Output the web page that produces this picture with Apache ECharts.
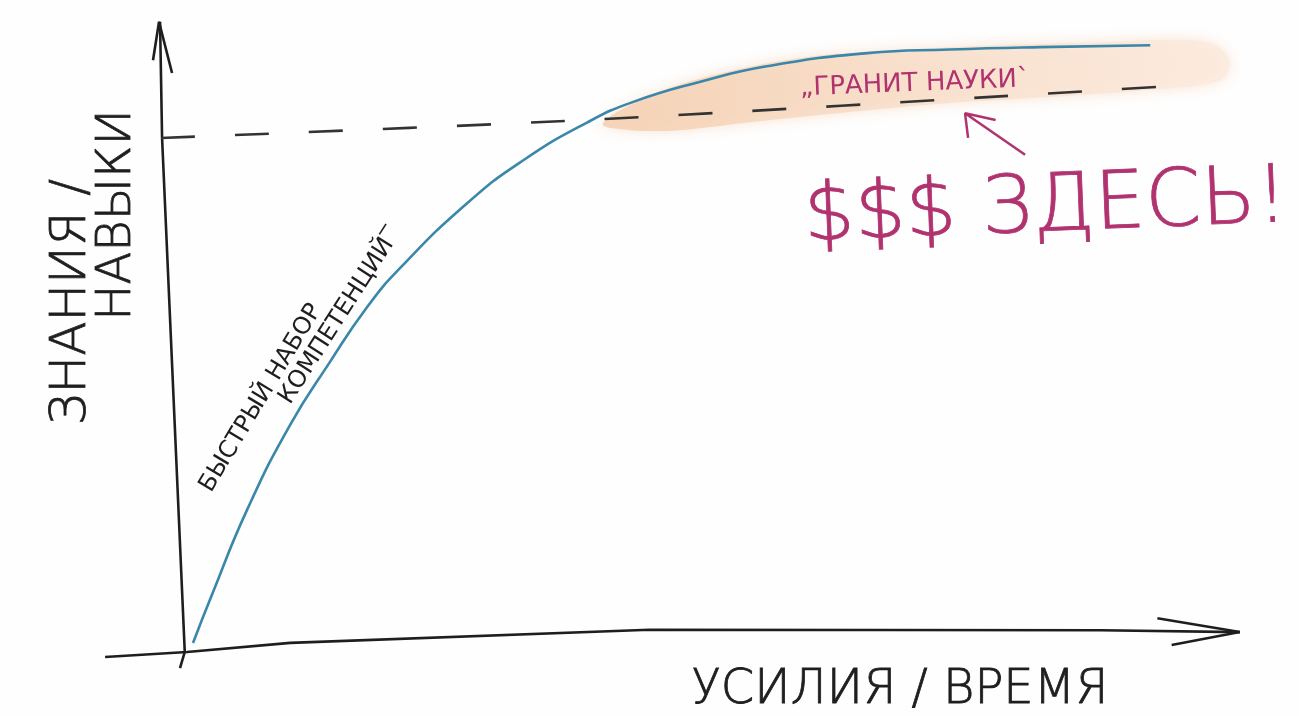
<!DOCTYPE html>
<html><head><meta charset="utf-8">
<script src="https://cdn.jsdelivr.net/npm/echarts@6/dist/echarts.min.js"></script>
<style>html,body{margin:0;padding:0;background:#fefefe}#c{width:1299px;height:716px}</style>
</head><body><div id="c"></div>
<script>
// Learning curve (effort -> knowledge)
const effort    = [1.14, 3.0, 6.45, 10.67, 14.6, 18.2, 21.5, 28.1, 33.6, 39.9, 44.4, 50.9, 57.5, 67.4, 75.5, 84.4, 95.2];
const knowledge = [1.5, 9.5, 23.6, 37.7, 48.2, 57.2, 63.8, 74.6, 81.7, 88.0, 91.4, 94.7, 97.3, 99.5, 100.1, 100.5, 100.8];
// Dashed "plateau" level
const plateauX = [-2, 41, 96];
const plateauY = [85.4, 88.5, 93.9];
// Hand-drawn axes
const xAxisLineX = [-7.5, 0.55, 10.7, 46, 90.3, 104];
const xAxisLineY = [-0.85, 0, 1.5, 3.7, 3.6, 3.3];
const xArrowX = [95.9, 104, 97.3];
const xArrowY = [5.6, 3.3, 1.15];
const yAxisLineX = [-0.14, 0.33, -1.9, -2.1];
const yAxisLineY = [-2.7, 0, 85.4, 104.7];
const yArrowX = [-2.79, -2.2, -0.92];
const yArrowY = [98.3, 104.7, 96.2];
// Highlighted "granite of science" zone
const zoneX = [41.4, 45.1, 51.0, 60.8, 70.6, 80.4, 90.3, 98.1, 101.6, 103.0, 102.1, 95.2, 85.4, 75.5, 65.7, 55.9, 49.0, 44.1];
const zoneY = [87.7, 91.7, 95.3, 98.7, 100.0, 100.8, 101.3, 101.7, 100.8, 98.0, 95.0, 93.4, 92.2, 91.2, 89.7, 88.0, 86.7, 86.7];
// Pointer arrow
const pointerX = [82.9, 77.0, 80.0, 77.0, 77.3];
const pointerY = [82.6, 89.5, 88.4, 89.5, 85.4];
// Texts
const axisTitles = ['УСИЛИЯ / ВРЕМЯ', 'ЗНАНИЯ /', 'НАВЫКИ'];
const notes = ['БЫСТРЫЙ НАБОР', 'КОМПЕТЕНЦИЙ‾', '„ГРАНИТ НАУКИ`', '$$$ ЗДЕСЬ!'];

const pairs = (xs, ys) => xs.map((x, i) => [x, ys[i]]);
const ink = '#1e1e1e', magenta = '#b0336f', blue = '#3a87aa';
const font = '"DejaVu Sans", sans-serif';

const chart = echarts.init(document.getElementById('c'), null, {renderer: 'canvas'});
const lineBase = {type: 'line', symbol: 'none', clip: false, silent: true, animation: false};
chart.setOption({
  backgroundColor: '#fefefe',
  animation: false,
  grid: {left: 100, right: 49, top: 20, bottom: 46},
  xAxis: {type: 'value', min: -8, max: 105, show: false},
  yAxis: {type: 'value', min: -3, max: 105, show: false},
  series: [
    {
      type: 'custom', coordinateSystem: 'cartesian2d', data: [[0, 0]], z: 1, silent: true, clip: false,
      renderItem: (params, api) => {
        const pts = zoneX.map((x, i) => api.coord([x, zoneY[i]]));
        return {
          type: 'polygon', shape: {points: pts, smooth: 0.35},
          style: {
            fill: new echarts.graphic.LinearGradient(0, 0, 1, 0, [
              {offset: 0, color: '#f4cfb0'}, {offset: 0.5, color: '#f8dfcb'}, {offset: 1, color: '#fcebdf'}
            ]),
            opacity: 0.85, shadowBlur: 14, shadowColor: 'rgba(247,215,190,0.8)'
          }
        };
      }
    },
    Object.assign({}, lineBase, {data: pairs(xAxisLineX, xAxisLineY), z: 3, lineStyle: {color: ink, width: 2.6}}),
    Object.assign({}, lineBase, {data: pairs(xArrowX, xArrowY), z: 3, lineStyle: {color: ink, width: 2.6}}),
    Object.assign({}, lineBase, {data: pairs(yAxisLineX, yAxisLineY), z: 3, lineStyle: {color: ink, width: 2.6}}),
    Object.assign({}, lineBase, {data: pairs(yArrowX, yArrowY), z: 3, lineStyle: {color: ink, width: 2.6}}),
    Object.assign({}, lineBase, {data: pairs(plateauX, plateauY), z: 3, smooth: 0.3,
      lineStyle: {color: '#333', width: 2.6, type: [34, 40]}}),
    Object.assign({}, lineBase, {data: pairs(effort, knowledge), z: 4, smooth: 0.5,
      lineStyle: {color: blue, width: 2.6}}),
    Object.assign({}, lineBase, {data: pairs(pointerX, pointerY), z: 4, lineStyle: {color: magenta, width: 2.5}})
  ],
  graphic: [
    {type: 'text', z: 100, x: 900, y: 691, style: {text: axisTitles[0], font: '200 48px ' + font, fill: ink, stroke: ink, lineWidth: 0.8, align: 'center', verticalAlign: 'middle'}},
    {type: 'text', z: 100, x: 72, y: 302, rotation: Math.PI / 2, style: {text: axisTitles[1], font: '200 50px ' + font, fill: ink, stroke: ink, lineWidth: 0.8, align: 'center', verticalAlign: 'middle'}},
    {type: 'text', z: 100, x: 118, y: 215, rotation: Math.PI / 2, style: {text: axisTitles[2], font: '200 48px ' + font, fill: ink, stroke: ink, lineWidth: 0.8, align: 'center', verticalAlign: 'middle'}},
    {type: 'text', z: 100, x: 261, y: 398, rotation: 1.03, style: {text: notes[0], font: '24px ' + font, fill: ink, align: 'center', verticalAlign: 'middle'}},
    {type: 'text', z: 100, x: 340, y: 316, rotation: 1.0, style: {text: notes[1], font: '24px ' + font, fill: ink, align: 'center', verticalAlign: 'middle'}},
    {type: 'text', z: 100, x: 915, y: 84, rotation: 0.04, style: {text: notes[2], font: '26px ' + font, fill: magenta, align: 'center', verticalAlign: 'middle'}},
    {type: 'text', z: 100, x: 1046, y: 210, rotation: 0.04, style: {text: notes[3], font: '200 80px ' + font, fill: magenta, stroke: magenta, lineWidth: 0.8, align: 'center', verticalAlign: 'middle'}}
  ]
});
</script></body></html>
